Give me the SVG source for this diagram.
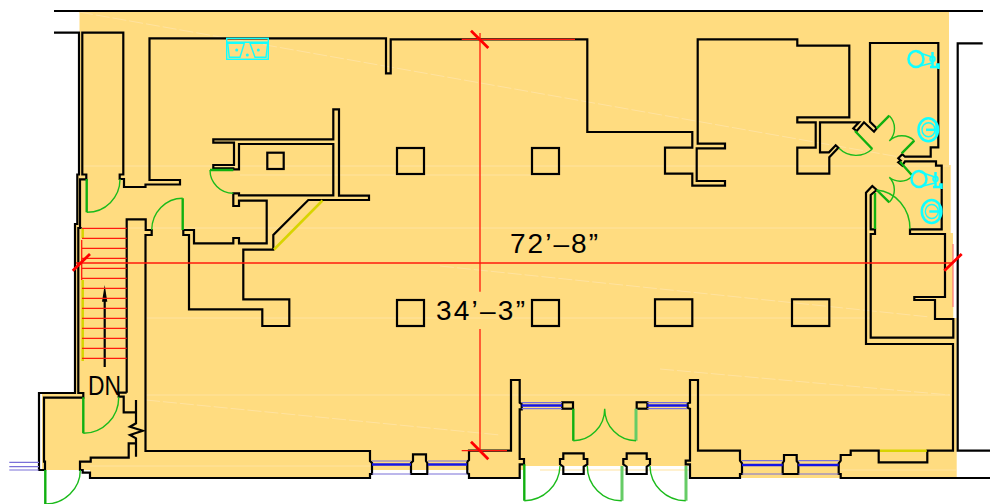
<svg xmlns="http://www.w3.org/2000/svg" width="990" height="504" viewBox="0 0 990 504">
<style>
.w{fill:none;stroke:#000;stroke-width:2.2}
.s{fill:none;stroke:#ffe3a0;stroke-width:1}
.d{stroke-dasharray:14 3}
.r{fill:none;stroke:#ff1a0d;stroke-width:1.3}
.t{fill:none;stroke:#f00;stroke-width:2.8}
.g{fill:none;stroke:#1bbb1b;stroke-width:1.4}
.l{fill:none;stroke:#10b010;stroke-width:2.4}
.p{fill:none;stroke:#66cc66;stroke-width:3}
.y{fill:none;stroke:#d8d400;stroke-width:2.5}
.c{fill:none;stroke:#1ff;stroke-width:1.4}
.c2{fill:none;stroke:#1ff;stroke-width:2.5}
.b{fill:none;stroke:#1414e6;stroke-width:2.6}
.bl{fill:none;stroke:#7a70d8;stroke-width:1.2}
.x{font-family:"Liberation Sans",sans-serif;fill:#000}
</style>
<defs>
<g id="toilet">
<ellipse class="c2" cx="916" cy="59" rx="7.500" ry="8"/>
<path class="c" d="M917 52L932 57M920 66L932 63"/>
<path class="c2" d="M932.500 52V68M930 67H938M936 64.500H938.500V69"/>
<circle class="c" cx="932.500" cy="59" r="2.500"/>
</g>
<g id="basin">
<ellipse class="c2" cx="928.300" cy="129.800" rx="9.800" ry="11.500"/>
<ellipse class="c" cx="928.500" cy="129.800" rx="6.500" ry="7"/>
<path class="c2" d="M926 129.800H938"/>
<path class="c2" d="M936.500 124V135"/>
</g>
</defs>

<g id="floor">
<path fill="#ffdc80" d="M79.500 12H949V165H950.700V233H953V307H953.300V318H956.700V478H840V466H524V470H42V393H75V225H78V175H79.500Z"/>
<path fill="#ffdc80" d="M80 470H370V478H90V470ZM469 466H520V478H469ZM690 466H840V478H690Z"/>
</g>
<g id="streaks">
<path class="s d" d="M79 12L905 158"/>
<path class="s" d="M82 166H950M240 175H560M82 228H870M146 318H870M146 395H950"/>
<path class="s d" d="M440 266L930 317"/>
<path class="s d" d="M146 400L500 435M660 369L950 395"/>
<path class="s" d="M90 466H370M540 470H690M840 470H956"/>
</g>

<g id="walls">
<path class="w" d="M54 11H983"/>
<path class="w" d="M54 32.700H79V174.500H77.300V224H75V393H39V470H45V461.700H44V397.700H83.300V393H78.300V228H81.700"/>
<path class="w" d="M80 228V179.300H86.300V174.500H82.300V32.700H123.300V174.500H119.700V179H124V187H145.500V184.500H180V180H149.500V38.300H386V73.300H390.700V39.300H587.300V132H692.300V147.700H665V173.700H692.300V185.700H725V181H696.700V148.300H725V143.700H697.700V39.300H797.300V45.700H849.300V117.300H797.300V122.300H815.700V147.700H797.300V173.700H829.300V157.300L838.300 147.700L835.700 145.300L829 152.300H820V122.300H859L853.300 128.300L856.700 131L864 122.300L874 131.700L876.700 128.300L870 121.700V43H938.300V147.300H930.700V156.700H905L902.300 154.300L898.300 158.300L900.700 160.700L898.300 162.300L902.300 165.700L905 161.300H936V165.700H941.700V229.300H910V234H945V297H914.300V300H935V319H953.300V337.700H870.700V234H875V229.300H870.700V195L876.700 190L872.300 186L866 192.700V344H953V450.700H927.300V462.300H878.700V450.700H850.700V455H840.700V460.700L838.700 463.300V474H840.700V478H990"/>
<path class="w" d="M982.700 43.300H957.700V450.700H990"/>
<path class="w" d="M126.700 392.700V219.300H145.700V230H151.700V235H145.500V451H370V461L372 463V474H370V478H90V472.700H82.700V470H80V461.700H90.700V457.700H128.700V443.300H136"/>
<path class="w" d="M126.700 392.700H118.700V396.700H123.700V412.300H136"/>
<path class="w" d="M136 400V423.300L130 426.700L142.700 430.700L130 435L136 438.300V456.700"/>
<path class="w" d="M213.300 139.300H333.300V109.300H339V195.700H369V200H308.300L273.300 235V249.700H243.300V299.300H289.300V326H262.300V309.300H189V235H183.300V230H194V243.300H233.300V238H239V243.300H266.700V200.700H239V206H233.300V193.300H239V195.300H333.300V144H239V169.300H233.300V168.300H213.300V165H234V142.700H213.300Z"/>
<path class="w" d="M469 478V474L467.300 473.300V461.700L469 460V450.700H511V380H519.700V402.700L521.700 404V409.300H519.700V459H524V464.300H519.700V478Z"/>
<path class="w" d="M740 450.700V460.700L742 463.300V474H740V478H690V464.300H685.700V460.700H690V408.700L687.700 408V403.300L690 402.700V380H698V450.700Z"/>
<path class="w" d="M411 474V463L413 461V454.300H426V461L427.300 463V474Z"/>
<path class="w" d="M782.700 474V463L784 461V455H796.700V461L798.300 463V474Z"/>
<path class="w" d="M563.300 453.300H583.700V459H587.300V464.300L583.700 466.700V474H563.300V466.700L560 464.300V459H563.300Z"/>
<path class="w" d="M626.700 453.300H646.700V459H650V464.300L646.700 466.700V474H626.700V466.700L623.300 464.300V459H626.700Z"/>
<rect class="w" x="562.300" y="402.300" width="10.700" height="6.400"/>
<rect class="w" x="636.700" y="402.300" width="10.700" height="6.400"/>
<path class="w" d="M104.700 367V296"/>
<path d="M104.700 285L107.300 301.700H102Z" fill="#000"/>
</g>

<g id="columns">
<rect class="w" x="267.300" y="152.700" width="16.400" height="16.300"/>
<rect class="w" x="397" y="148" width="27" height="26"/>
<rect class="w" x="532" y="148" width="27" height="26"/>
<rect class="w" x="397" y="300" width="27" height="26"/>
<rect class="w" x="532" y="300" width="27" height="26"/>
<rect class="w" x="655" y="299.300" width="37.300" height="26.700"/>
<rect class="w" x="792" y="299.300" width="37.300" height="26.700"/>
</g>

<g id="windows">
<path class="bl" d="M9.300 462.300H39M9.300 466.700H39M9.300 470H39"/>
<path class="bl" d="M372 461H411M372 474H411M428 461H467M428 474H467M521.700 402.700H562M521.700 408.700H562M647.300 402.700H687.300M647.300 408.700H687.300M742 460.700H782.700M742 474H782.700M798.300 460.700H838.700M798.300 474H838.700"/>
<path class="b" d="M372 464.500H411M428 464.500H467M521.700 405.500H562M647.300 405.500H687.300M742 465H782.700M798.300 465H838.700"/>
</g>

<g id="doors">
<path class="l" d="M86.700 179V212.300M182.700 198.300V230M210 170H233.300M83.300 397.300V433.300"/>
<path class="g" d="M86.700 212.300A33 33 0 0 0 120 179M182.700 198.300A31 32 0 0 0 151.700 230M210 170A23.300 23.300 0 0 0 233.300 193.300M83.300 433.300A35.400 36 0 0 0 118.700 396.700M45.300 504A35 34 0 0 0 80.300 470"/>
<path class="l" d="M45.300 470V504M573.300 408.700V440.700"/>
<path class="p" d="M636 408.700V440.700M622 466V500.700M686 466V500.700"/>
<path class="l" d="M524.300 464.300V500.700"/>
<path class="g" d="M524.300 500.700A36 36 0 0 0 560 466M587.300 466A34 34.700 0 0 0 621.700 500.700M650 466A36 35 0 0 0 685.700 500.700M573.300 440.700A31.400 32 0 0 0 604.700 408.700M636 440.700A31.300 32 0 0 1 604.700 408.700"/>
<path class="l" d="M855 131L872.300 149M876.700 128.300L889.300 115.700M901.700 153.300L914.300 140.700M900 161.700L911.700 175M876.700 190L889.300 202.300"/>
<path class="g" d="M872.300 149A24 24 0 0 1 839 148.300M889.300 115.700A18 18 0 0 1 889.300 141M914.300 140.700A18 18 0 0 0 889.300 141M911.700 176.700A17 17 0 0 1 889.300 177.300M889.300 202.300A18 18 0 0 0 889.300 177.300M876.700 190A36 39 0 0 1 910 229.300"/>
<path class="l" d="M875 193V229"/>
</g>

<g id="yellow">
<path class="y" d="M322.500 200.500L274 249.500"/>
<path class="y" d="M82.700 228.300V238M82.700 280V361"/>
<path class="y" d="M880 450.700H926.700"/>
</g>

<g id="fixtures">
<rect class="c" x="226.700" y="38.300" width="41.600" height="21"/>
<path class="c" d="M226.700 42.300H268.300M227.700 43.300H244.300L240 57.300H229.300ZM250 43.300H267.700L266 57.300H255Z"/>
<circle cx="236.700" cy="50" r="1.500" fill="#1ff"/>
<circle cx="247.300" cy="55" r="1.500" fill="#1ff"/>
<circle cx="258.300" cy="50" r="1.500" fill="#1ff"/>
<use href="#toilet"/>
<use href="#toilet" x="3" y="120"/>
<use href="#basin"/>
<use href="#basin" x="3.300" y="81.700"/>
</g>

<g id="stairs">
<path class="r" d="M82 228.300H126.700M82 238.300H126.700M82 248.300H126.700M82 258.300H126.700M82 268.300H126.700M82 278.300H126.700M82 288.300H126.700M82 298.300H126.700M82 308.300H126.700M82 318.300H126.700M82 328.300H126.700M82 338.300H126.700M82 348.300H126.700M82 358.300H126.700"/>
</g>

<g id="dimensions">
<path class="r" d="M76 263H952M480 33V291.700M480 329V450M461.700 39.300H575M461.700 450.700H507M81.700 240V280"/>
<path fill="none" stroke="#ff7070" stroke-width="1.200" d="M953 244V307"/>
<path class="t" d="M471 30.700L488.300 48M471 441.700L488.300 459.300M72.700 270.700L90 254M944.300 270.700L961.700 254"/>
<text class="x" x="510" y="253.300" font-size="28" textLength="88">72’–8”</text>
<text class="x" x="436" y="320" font-size="28" textLength="89">34’–3”</text>
<text class="x" x="88" y="394.500" font-size="27" textLength="33" lengthAdjust="spacingAndGlyphs">DN</text>
</g>
</svg>
